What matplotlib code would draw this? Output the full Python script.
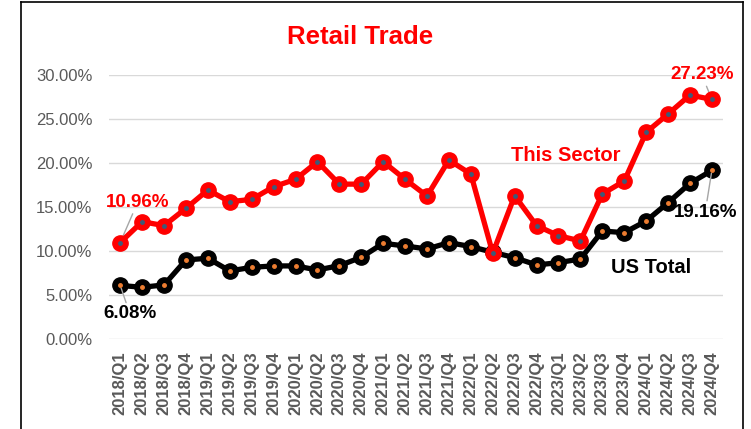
"""
Retail Trade: share of this sector vs US total, quarterly 2018-2024.
"""

import matplotlib.pyplot as plt
from matplotlib.lines import Line2D
from matplotlib.ticker import PercentFormatter

plt.rcParams["font.family"] = ["Liberation Sans", "DejaVu Sans"]

quarters = [f"{y}/Q{q}" for y in range(2018, 2025) for q in range(1, 5)]

sector = [10.96, 13.33, 12.88, 14.85, 16.93, 15.60, 15.87, 17.30,
          18.15, 20.15, 17.60, 17.60, 20.15, 18.15, 16.25, 20.34,
          18.75, 9.74, 16.28, 12.88, 11.74, 11.14, 16.48, 17.95,
          23.49, 25.57, 27.73, 27.23]

us_total = [6.08, 5.87, 6.14, 8.98, 9.17, 7.73, 8.14, 8.30,
            8.30, 7.84, 8.33, 9.28, 10.87, 10.57, 10.23, 10.95,
            10.50, 9.85, 9.24, 8.41, 8.67, 9.09, 12.27, 12.08,
            13.41, 15.49, 17.69, 19.16]

RED = "#FF0000"
GREY = "#595959"

fig = plt.figure(figsize=(7.51, 4.29), dpi=100)
ax = fig.add_axes([0.1455, 0.21, 0.817, 0.615])

x = range(len(quarters))

# линии с крупными маркерами и маленькими точками в центре
ax.plot(x, us_total, color="black", lw=3.8, marker="o", ms=11, zorder=3)
ax.plot(x, us_total, ls="none", marker="o", ms=2.5, color="#ED7D31", zorder=4)
ax.plot(x, sector, color=RED, lw=3.8, marker="o", ms=11, zorder=5)
ax.plot(x, sector, ls="none", marker="o", ms=2.5, color="#3F5A78", zorder=6)

ax.set_xlim(-0.5, len(quarters) - 0.5)
ax.set_ylim(0, 30)
ax.set_yticks([0, 5, 10, 15, 20, 25, 30])
ax.yaxis.set_major_formatter(PercentFormatter(decimals=2))
ax.set_xticks(list(x))
ax.set_xticklabels(quarters, rotation=90, fontweight="bold")
ax.tick_params(axis="both", length=0, labelsize=12, labelcolor=GREY)
ax.tick_params(axis="y", pad=12)
ax.tick_params(axis="x", pad=9)
ax.grid(axis="y", color="#D9D9D9", lw=1)
ax.set_axisbelow(True)
for s in ax.spines.values():
    s.set_visible(False)

# подписи крайних значений
lead = dict(arrowstyle="-", color="#A6A6A6", lw=1, shrinkA=0, shrinkB=2)
ax.annotate(f"{sector[0]:.2f}%", (0, sector[0]), xytext=(12.5, 28.8),
            textcoords="offset points", ha="center", va="center",
            color=RED, fontsize=13.5, fontweight="bold", arrowprops=lead)
ax.annotate(f"{sector[-1]:.2f}%", (27, sector[-1]), xytext=(-7.2, 17.6),
            textcoords="offset points", ha="center", va="center",
            color=RED, fontsize=13.5, fontweight="bold", arrowprops=lead)
ax.annotate(f"{us_total[0]:.2f}%", (0, us_total[0]), xytext=(7, -20.5),
            textcoords="offset points", ha="center", va="center",
            color="black", fontsize=13.5, fontweight="bold", arrowprops=lead)
ax.annotate(f"{us_total[-1]:.2f}%", (27, us_total[-1]), xytext=(-4.8, -30),
            textcoords="offset points", ha="center", va="center",
            color="black", fontsize=13.5, fontweight="bold", arrowprops=lead)

ax.text(20.35, 20.9, "This Sector", color=RED, fontsize=14.5,
        fontweight="bold", ha="center", va="center")
ax.text(24.22, 8.07, "US Total", color="black", fontsize=14.5,
        fontweight="bold", ha="center", va="center")

fig.text(0.479, 0.914, "Retail Trade", color=RED, fontsize=18.5,
         fontweight="bold", ha="center", va="center")

# рамка диаграммы (нижний край обрезан)
for xs, ys in [([0.028, 0.028], [0, 0.995]),
               ([0.028, 0.989], [0.995, 0.995]),
               ([0.989, 0.989], [0.995, 0])]:
    fig.add_artist(Line2D(xs, ys, color="black", lw=1.2))

fig.savefig("out.png", dpi=100)
